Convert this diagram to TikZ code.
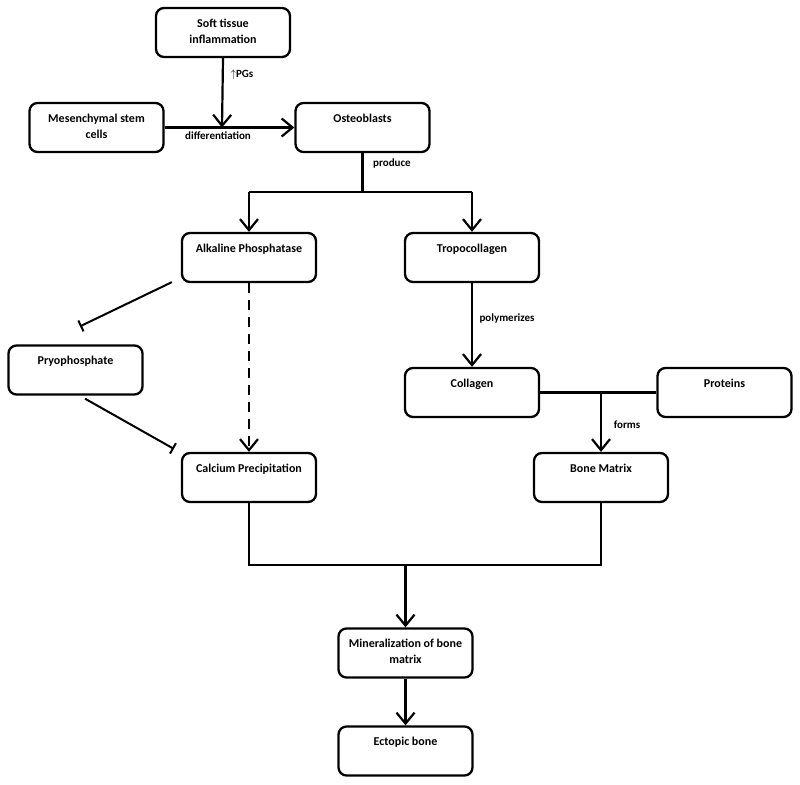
\documentclass[tikz,border=0pt]{standalone}
\usepackage{fontspec}
\setmainfont{Carlito}
\usetikzlibrary{arrows.meta}
\newcommand{\bxt}[1]{\parbox[t][33pt][t]{116pt}{\centering\fontsize{12}{16}\selectfont\bfseries\strut #1}}
\begin{document}
\begin{tikzpicture}[x=1pt,y=-1pt,
  box/.style={draw, line width=2.3pt, rounded corners=8pt, minimum width=134pt, minimum height=49pt, inner sep=0pt},
  conn/.style={line width=2.2pt},
  arr/.style={conn, -{Straight Barb[length=11pt,width=18pt,line width=2.2pt]}},
  inh/.style={line width=2pt, -{Bar[width=12pt,line width=2pt]}},
  lbl/.style={font=\fontsize{11}{12}\selectfont\bfseries, inner sep=1pt}]
\useasboundingbox (0,0) rectangle (800,784);
% boxes
\node[box] (soft) at (223,32.5) {\bxt{Soft tissue inflammation}};
\node[box] (msc) at (96.5,127.5) {\bxt{Mesenchymal stem cells}};
\node[box] (osteo) at (362.5,127.5) {\bxt{Osteoblasts}};
\node[box] (alk) at (249,257.5) {\bxt{Alkaline Phosphatase}};
\node[box] (tropo) at (472,257.5) {\bxt{Tropocollagen}};
\node[box] (pyro) at (75.5,370) {\bxt{Pryophosphate}};
\node[box] (coll) at (472,392.5) {\bxt{Collagen}};
\node[box] (prot) at (724.5,392.5) {\bxt{Proteins}};
\node[box] (calc) at (249,477.5) {\bxt{Calcium Precipitation}};
\node[box] (bone) at (601,477.5) {\bxt{Bone Matrix}};
\node[box] (mineral) at (405.5,653) {\bxt{Mineralization of bone matrix}};
\node[box] (ecto) at (405.5,751) {\bxt{Ectopic bone}};
% junction coordinates
\coordinate (j1) at (222,127.5);
\coordinate (split) at (362.5,192);
\coordinate (fj) at (601,392.5);
\coordinate (mj) at (405.5,565);
% connectors
\draw[conn] (msc.east) -- (j1);
\draw[arr] (j1) -- (osteo.west);
\draw[arr] (soft.south) -- (j1);
\draw[conn] (osteo.south) -- (split);
\draw[conn] (alk.north |- split) -- (tropo.north |- split);
\draw[arr] (alk.north |- split) -- (alk.north);
\draw[arr] (tropo.north |- split) -- (tropo.north);
\draw[arr, dash pattern=on 10pt off 7pt] (alk.south) -- (calc.north);
\draw[inh] ([shift={(-9pt,1pt)}]alk.south west) -- ([shift={(4.5pt,18pt)}]pyro.north);
\draw[inh] ([shift={(9.5pt,-3pt)}]pyro.south) -- ([shift={(-7pt,3pt)}]calc.north west);
\draw[arr] (tropo.south) -- (coll.north);
\draw[conn] (coll.east) -- (prot.west);
\draw[arr] (fj) -- (bone.north);
\draw[conn] (calc.south) -- (calc.south |- mj) -- (bone.south |- mj) -- (bone.south);
\draw[arr] (mj) -- (mineral.north);
\draw[arr] (mineral.south) -- (ecto.north);
% labels
\node[lbl] (lpg) at (242,75) {$\uparrow$PGs};
\node[lbl] (ldiff) at (218,136) {differentiation};
\node[lbl] (lprod) at (392,164) {produce};
\node[lbl] (lpoly) at (507,319) {polymerizes};
\node[lbl] (lforms) at (627,425) {forms};
\end{tikzpicture}
\end{document}
